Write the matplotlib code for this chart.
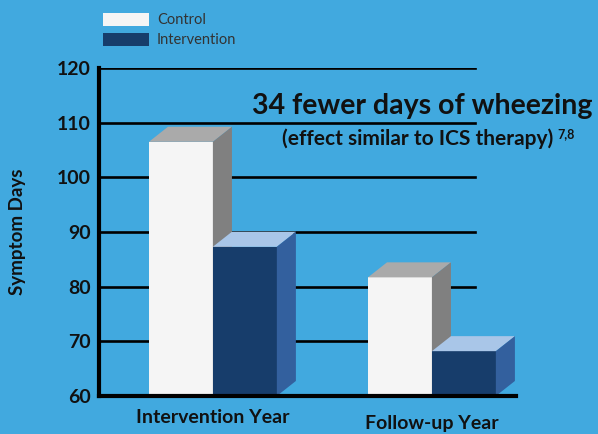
import matplotlib
matplotlib.use('Agg')
import matplotlib.pyplot as plt
from matplotlib.patches import Polygon

plt.rcParams['font.family'] = ['Lato', 'DejaVu Sans']

categories = ['Intervention Year', 'Follow-up Year']
control = [106.5, 81.7]
intervention = [87.3, 68.2]
series_names = ['Control', 'Intervention']
yticks = [60, 70, 80, 90, 100, 110, 120]

BG = '#41a9df'
FRONT = ['#f5f5f5', '#173d6b']
TOP = ['#aaaaaa', '#a9c6e8']
SIDE = ['#808080', '#33609e']
INK = '#111111'

W, H = 598, 434
fig = plt.figure(figsize=(W / 100, H / 100), dpi=100, facecolor=BG)
ax = fig.add_axes([99 / W, (H - 396) / H, (516 - 99) / W, (396 - 68) / H])
ax.set_facecolor(BG)

width = 0.292
dx, dy = 0.087, 2.75
base = 60

# fake 3d bars: front rect + top and side faces
for i, name in enumerate(categories):
    for j, vals in enumerate([control, intervention]):
        x0 = i + (j - 1) * width
        v = vals[i]
        ax.bar(x0, v - base, width=width, bottom=base, align='edge',
               color=FRONT[j], zorder=3 + j, linewidth=0)
        top = [(x0, v), (x0 + dx, v + dy), (x0 + width + dx, v + dy), (x0 + width, v)]
        side = [(x0 + width, base), (x0 + width + dx, base + dy),
                (x0 + width + dx, v + dy), (x0 + width, v)]
        ax.add_patch(Polygon(top, closed=True, facecolor=TOP[j], lw=0, zorder=3 + j))
        ax.add_patch(Polygon(side, closed=True, facecolor=SIDE[j], lw=0, zorder=3 + j))

for y in yticks[1:]:
    ax.axhline(y, xmin=0, xmax=0.902, color='black', lw=1.9, zorder=1)

ax.set_xlim(-0.52, 1.384)
ax.set_ylim(60, 120)
ax.set_yticks(yticks)
ax.tick_params(axis='y', length=0, pad=6)
ax.set_yticklabels([str(t) for t in yticks], fontsize=14, fontweight='bold', color=INK)
ax.set_xticks([])
for s in ['top', 'right']:
    ax.spines[s].set_visible(False)
for s in ['left', 'bottom']:
    ax.spines[s].set_linewidth(3)
    ax.spines[s].set_zorder(6)

ax.set_ylabel('Symptom Days', fontsize=13.5, fontweight='bold', color=INK, labelpad=22)

label_y = [-0.065, -0.085]
for i, name in enumerate(categories):
    ax.text(i, label_y[i], name, transform=ax.get_xaxis_transform(), ha='center', va='center',
            fontsize=14, fontweight='bold', color=INK)

fig.text(593 / W, 1 - 106 / H, '34 fewer days of wheezing', ha='right', va='center',
         fontsize=20.5, fontweight='bold', color=INK)
fig.text(553 / W, 1 - 139 / H, '(effect similar to ICS therapy)', ha='right',
         va='center', fontsize=15, fontweight='bold', color=INK)
fig.text(557 / W, 1 - 134 / H, '7,8', ha='left', va='center',
         fontsize=9, fontweight='bold', color=INK)

# legend
for j, name in enumerate(series_names):
    yc = 1 - (19.5 + j * 20) / H
    fig.patches.append(plt.Rectangle((103 / W, yc - 6.5 / H), 46 / W, 13 / H,
                                     transform=fig.transFigure, facecolor=FRONT[j], lw=0))
    fig.text(157 / W, yc, name, ha='left', va='center', fontsize=10.5, color='#333333')

fig.savefig('out.png', dpi=100, facecolor=BG)
